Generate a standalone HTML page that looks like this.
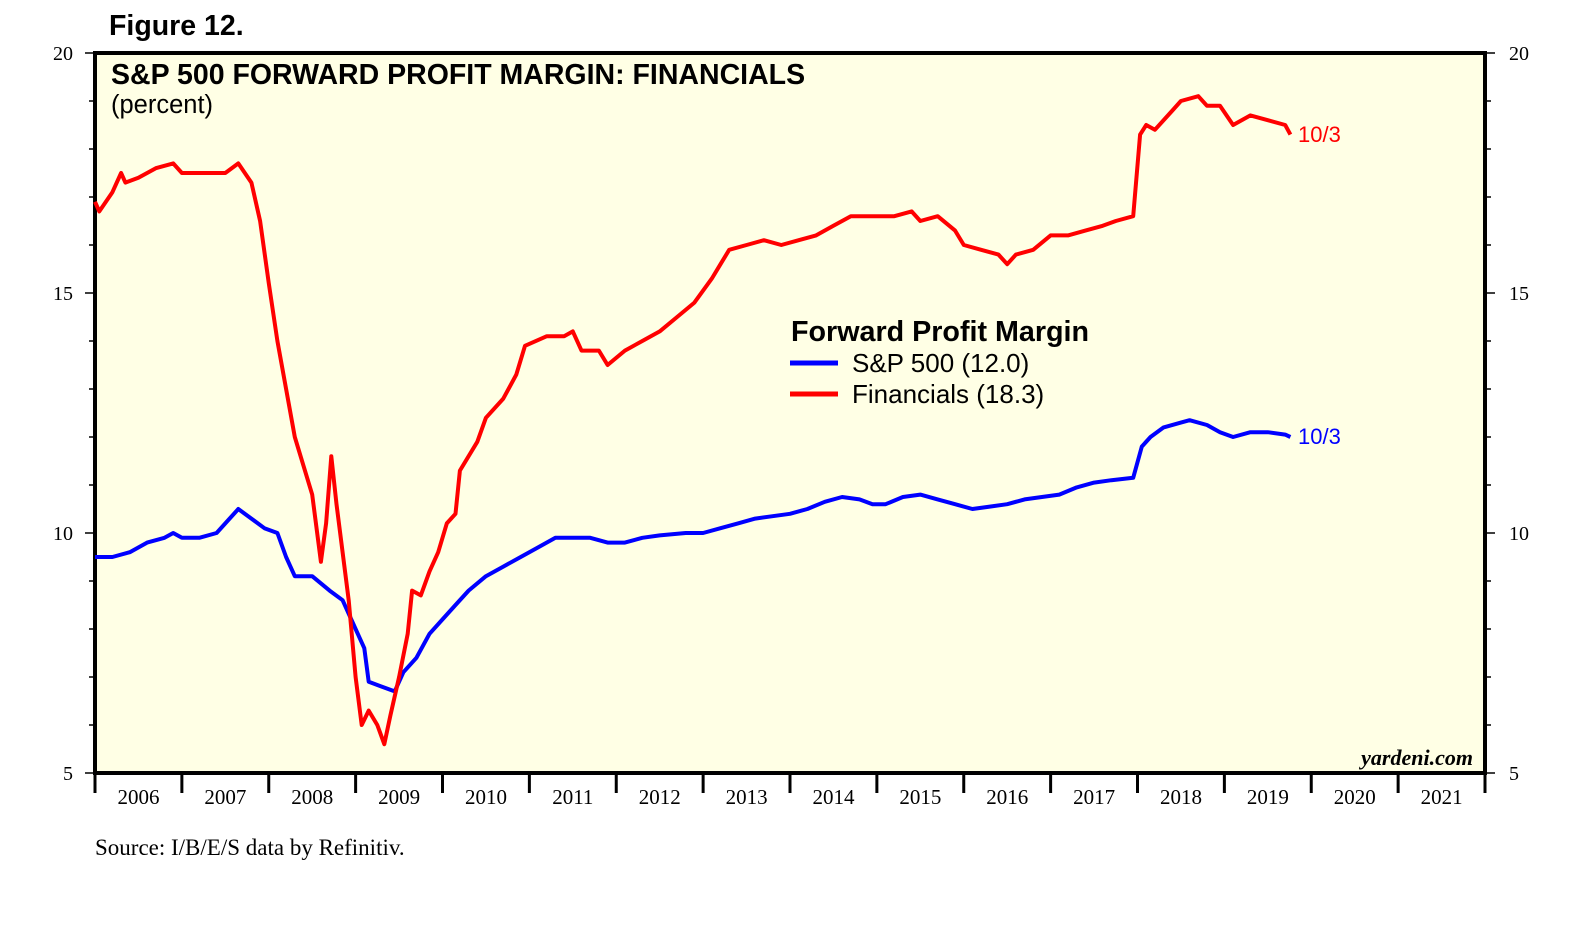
<!DOCTYPE html>
<html><head><meta charset="utf-8"><style>
body{margin:0;background:#fff;}
svg text{font-family:"Liberation Sans",sans-serif;}
</style></head><body>
<svg id="chart" width="1570" height="930" viewBox="0 0 1570 930">
<text x="109" y="35" font-size="28.5" font-weight="bold">Figure 12.</text>
<rect x="95" y="53" width="1390" height="720" fill="#ffffe5" stroke="#000" stroke-width="4"/>
<text x="111" y="84" font-size="28.5" font-weight="bold">S&amp;P 500 FORWARD PROFIT MARGIN: FINANCIALS</text>
<text x="111" y="113" font-size="25.5">(percent)</text>
<g id="axes"></g>
<g id="series"></g>
<g>
<text x="791" y="341" font-size="28.7" font-weight="bold">Forward Profit Margin</text>
<line x1="790" y1="363" x2="838" y2="363" stroke="#0000ff" stroke-width="5"/>
<text x="852" y="372" font-size="26">S&amp;P 500 (12.0)</text>
<line x1="790" y1="394" x2="838" y2="394" stroke="#ff0000" stroke-width="5"/>
<text x="852" y="403" font-size="26">Financials (18.3)</text>
</g>
<text x="1298" y="142" font-size="22" fill="#ff0000">10/3</text>
<text x="1298" y="444" font-size="22" fill="#0000ff">10/3</text>
<text x="1473" y="765" font-size="22" font-style="italic" font-weight="bold" text-anchor="end" style="font-family:'Liberation Serif',serif">yardeni.com</text>
<text x="95" y="855" font-size="23" style="font-family:'Liberation Serif',serif">Source: I/B/E/S data by Refinitiv.</text>
</svg>
<script>
const years=[2006,2007,2008,2009,2010,2011,2012,2013,2014,2015,2016,2017,2018,2019,2020,2021];
const yTicks=[5,10,15,20];
const finX=[2006.0,2006.05,2006.2,2006.3,2006.35,2006.5,2006.7,2006.9,2007.0,2007.3,2007.5,2007.65,2007.8,2007.9,2008.0,2008.1,2008.2,2008.3,2008.4,2008.5,2008.6,2008.66,2008.72,2008.78,2008.85,2008.92,2009.0,2009.07,2009.15,2009.25,2009.33,2009.4,2009.5,2009.6,2009.65,2009.75,2009.85,2009.95,2010.05,2010.15,2010.2,2010.4,2010.5,2010.7,2010.85,2010.95,2011.2,2011.4,2011.5,2011.6,2011.8,2011.9,2012.1,2012.3,2012.5,2012.7,2012.9,2013.1,2013.2,2013.3,2013.5,2013.7,2013.9,2014.1,2014.3,2014.5,2014.7,2014.9,2015.2,2015.4,2015.5,2015.7,2015.9,2016.0,2016.2,2016.4,2016.5,2016.6,2016.8,2017.0,2017.2,2017.4,2017.6,2017.75,2017.95,2018.03,2018.1,2018.2,2018.4,2018.5,2018.7,2018.8,2018.95,2019.1,2019.3,2019.5,2019.7,2019.76];
const finY=[16.9,16.7,17.1,17.5,17.3,17.4,17.6,17.7,17.5,17.5,17.5,17.7,17.3,16.5,15.2,14.0,13.0,12.0,11.4,10.8,9.4,10.2,11.6,10.6,9.6,8.6,7.0,6.0,6.3,6.0,5.6,6.2,7.0,7.9,8.8,8.7,9.2,9.6,10.2,10.4,11.3,11.9,12.4,12.8,13.3,13.9,14.1,14.1,14.2,13.8,13.8,13.5,13.8,14.0,14.2,14.5,14.8,15.3,15.6,15.9,16.0,16.1,16.0,16.1,16.2,16.4,16.6,16.6,16.6,16.7,16.5,16.6,16.3,16.0,15.9,15.8,15.6,15.8,15.9,16.2,16.2,16.3,16.4,16.5,16.6,18.3,18.5,18.4,18.8,19.0,19.1,18.9,18.9,18.5,18.7,18.6,18.5,18.3];
const spX=[2006.0,2006.2,2006.4,2006.6,2006.8,2006.9,2007.0,2007.2,2007.4,2007.5,2007.65,2007.8,2007.95,2008.1,2008.2,2008.3,2008.5,2008.7,2008.85,2009.0,2009.1,2009.15,2009.3,2009.45,2009.55,2009.7,2009.85,2010.0,2010.15,2010.3,2010.5,2010.7,2010.9,2011.1,2011.3,2011.5,2011.7,2011.9,2012.1,2012.3,2012.5,2012.8,2013.0,2013.2,2013.4,2013.6,2013.8,2014.0,2014.2,2014.4,2014.6,2014.8,2014.95,2015.1,2015.3,2015.5,2015.7,2015.9,2016.1,2016.3,2016.5,2016.7,2016.9,2017.1,2017.3,2017.5,2017.7,2017.95,2018.05,2018.15,2018.3,2018.5,2018.6,2018.8,2018.95,2019.1,2019.3,2019.5,2019.7,2019.76];
const spY=[9.5,9.5,9.6,9.8,9.9,10.0,9.9,9.9,10.0,10.2,10.5,10.3,10.1,10.0,9.5,9.1,9.1,8.8,8.6,8.0,7.6,6.9,6.8,6.7,7.1,7.4,7.9,8.2,8.5,8.8,9.1,9.3,9.5,9.7,9.9,9.9,9.9,9.8,9.8,9.9,9.95,10.0,10.0,10.1,10.2,10.3,10.35,10.4,10.5,10.65,10.75,10.7,10.6,10.6,10.75,10.8,10.7,10.6,10.5,10.55,10.6,10.7,10.75,10.8,10.95,11.05,11.1,11.15,11.8,12.0,12.2,12.3,12.35,12.25,12.1,12.0,12.1,12.1,12.05,12.0];
const L=95,R=1485,T=53,B=773;
function xs(v){return L+(v-2006)*(R-L)/16;}
function ys(v){return B-(v-5)*(B-T)/15;}
const NS="http://www.w3.org/2000/svg";
function mk(tag,attrs,parent){const e=document.createElementNS(NS,tag);for(const k in attrs)e.setAttribute(k,attrs[k]);parent.appendChild(e);return e;}
const ax=document.getElementById('axes');
for(let v=5;v<=20;v++){
  const y=ys(v),len=(v%5===0)?10:6;
  const t1=mk('line',{x1:L-len,y1:y,x2:L,y2:y,stroke:'#000','stroke-width':1.5},ax);
  
  
  const t2=mk('line',{x1:R,y1:y,x2:R+len,y2:y,stroke:'#000','stroke-width':1.5},ax);
  
  
}
yTicks.forEach(v=>{
  const a=mk('text',{x:73,y:ys(v)+7,'font-size':20,'text-anchor':'end',style:"font-family:'Liberation Serif',serif"},ax);a.textContent=v;
  
  
  const b=mk('text',{x:1509,y:ys(v)+7,'font-size':20,style:"font-family:'Liberation Serif',serif"},ax);b.textContent=v;
  
  
});
years.forEach(yr=>{
  const tk=mk('line',{x1:xs(yr),y1:B,x2:xs(yr),y2:B+20,stroke:'#000','stroke-width':3},ax);
  
  
  const t=mk('text',{x:xs(yr+0.5),y:B+31,'font-size':21,'text-anchor':'middle',style:"font-family:'Liberation Serif',serif"},ax);t.textContent=yr;
  
  
});
const tk=mk('line',{x1:R,y1:B,x2:R,y2:B+20,stroke:'#000','stroke-width':3},ax);


const sg=document.getElementById('series');
function line(X,Y,c,name){
  const d=X.map((x,i)=>(i?'L':'M')+xs(x).toFixed(1)+','+ys(Y[i]).toFixed(1)).join('');
  const p=mk('path',{d:d,fill:'none',stroke:c,'stroke-width':4,'stroke-linejoin':'round'},sg);
  
  
}
line(spX,spY,'#0000ff','sp500-line');
line(finX,finY,'#ff0000','financials-line');
</script>
</body></html>
